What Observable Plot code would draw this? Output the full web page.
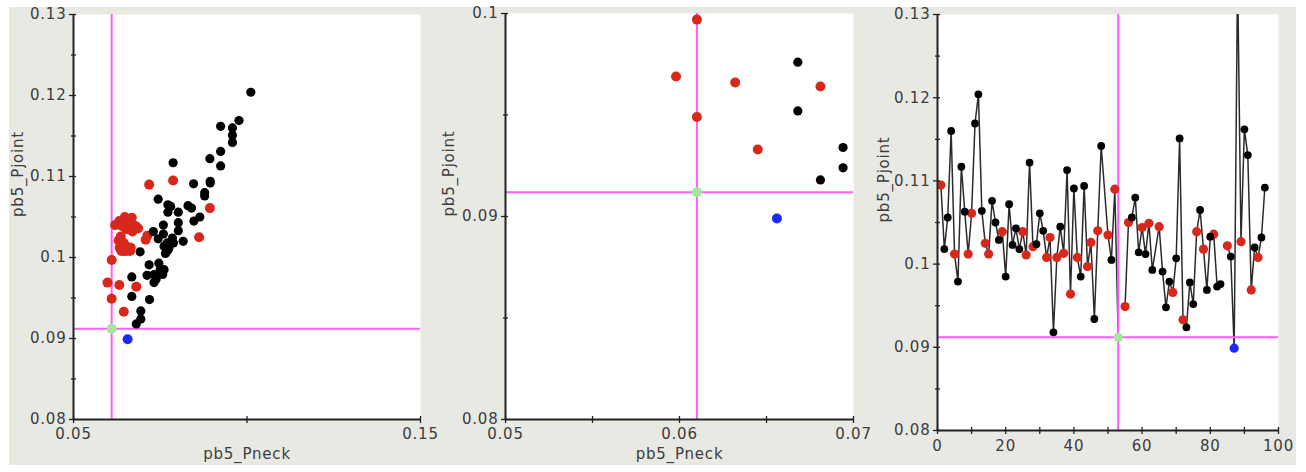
<!DOCTYPE html>
<html>
<head>
<meta charset="utf-8">
<script src="https://cdn.jsdelivr.net/npm/d3@7"></script>
<script src="https://cdn.jsdelivr.net/npm/@observablehq/plot@0.6"></script>
<style>
html,body{margin:0;padding:0;background:#fff;}
#wrap{position:relative;width:1306px;height:472px;overflow:hidden;background:#fff;}
#bg{position:absolute;left:9px;top:7px;width:1287px;height:458px;background:#e9e9e4;}
#wrap svg{position:absolute;left:0;top:0;}
</style>
</head>
<body>
<div id="wrap"><div id="bg"></div></div>
<script>
// ---- data ----
const index = [1,2,3,4,5,6,7,8,9,10,11,12,13,14,15,16,17,18,19,20,21,22,23,24,25,26,27,28,29,30,31,32,33,34,35,36,37,38,39,40,41,42,43,44,45,46,47,48,50,51,52,53,54,55,56,57,58,59,60,61,62,63,65,66,67,68,69,70,71,72,73,74,75,76,77,78,79,80,81,82,83,84,85,86,87,88,89,90,91,92,93,94,95,96];
const pjoint = [0.1095,0.1018,0.1056,0.1160,0.1012,0.0979,0.1117,0.1063,0.1012,0.1061,0.1169,0.1204,0.1064,0.1025,0.1012,0.1076,0.1050,0.1029,0.1039,0.0985,0.1072,0.1023,0.1043,0.1018,0.1039,0.1011,0.1122,0.1021,0.1024,0.1061,0.1040,0.1008,0.1032,0.0918,0.1008,0.1045,0.1013,0.1113,0.0964,0.1091,0.1008,0.0985,0.1094,0.0997,0.1026,0.0934,0.1040,0.1142,0.1035,0.1005,0.1090,0.0912,null,0.0949,0.1050,0.1056,0.1080,0.1014,0.1044,0.1012,0.1049,0.0993,0.1045,0.0991,0.0948,0.0979,0.0966,0.1007,0.1151,0.0933,0.0924,0.0978,0.0952,0.1039,0.1065,0.1018,0.0969,0.1033,0.1036,0.0973,0.0976,null,0.1022,0.1009,0.0899,0.1350,0.1027,0.1162,0.1131,0.0969,0.1020,0.1008,0.1032,0.1092];
const pneck = [0.0787,0.0788,0.0772,0.0958,0.0633,0.0732,0.0787,0.0780,0.0665,0.0893,0.0977,0.1011,0.0830,0.0862,0.0645,0.0878,0.0864,0.0759,0.0678,0.0761,0.0744,0.0744,0.0802,0.0770,0.0662,0.0660,0.0893,0.0630,0.0785,0.0840,0.0759,0.0638,0.0670,0.0681,0.0652,0.0847,0.0655,0.0924,0.0681,0.0846,0.0663,0.0750,0.0894,0.0610,0.0636,0.0694,0.0620,0.0958,0.0652,0.0765,0.0718,0.0610,null,0.0610,0.0648,0.0802,0.0878,0.0761,0.0655,0.0775,0.0668,0.0746,0.0632,0.0718,0.0719,0.0757,0.0632,0.0692,0.0958,0.0645,0.0694,0.0712,0.0668,0.0640,0.0772,0.0645,0.0732,0.0802,0.0686,0.0738,0.0668,null,0.0708,0.0772,0.0656,0.1050,0.0713,0.0924,0.0924,0.0598,0.0816,0.0645,0.0730,0.0894];
const group = ["r","k","k","k","r","k","k","k","r","r","k","k","k","r","r","k","k","k","r","k","k","k","k","k","r","r","k","r","k","k","k","r","r","k","r","k","r","k","r","k","r","k","k","r","r","k","r","k","r","k","r","g","k","r","r","k","k","k","r","k","r","k","r","k","k","k","r","k","k","r","k","k","k","r","k","r","k","k","r","k","k","k","r","k","b","k","r","k","k","r","k","r","k","k"];
const groupColor = {r: "#d8281b", k: "#000000", b: "#1a2cf2", g: "#a2e6a0"};
const selectedIndex = 53;

// axis ticks
const yTicksA = [0.08,0.09,0.10,0.11,0.12,0.13];
const yMinorA = [0.085,0.095,0.105,0.115,0.125];
const xTicks1 = [0.05,0.10,0.15];
const xLabels1 = [0.05,0.15];
const yTicks2 = [0.08,0.09,0.10];
const yMinor2 = [0.085,0.095];
const xTicks2 = [0.05,0.055,0.06,0.065,0.07];
const xLabels2 = [0.05,0.06,0.07];
const xTicks3 = [0,10,20,30,40,50,60,70,80,90,100];
const xLabels3 = [0,20,40,60,80,100];

const rows = index.map((d, i) => ({index: d, pjoint: pjoint[i], pneck: pneck[i], group: group[i]}));
const sel = rows.find(d => d.index === selectedIndex);
const base = rows.filter(d => d.group === "r" || d.group === "k");
const special = rows.filter(d => d.group === "b" || d.group === "g");

const AX = "#222";
const MAG = "#ff5cff";
const TXT = "#3c3c3c";
const fmt = d => String(+(+d).toFixed(4));

function makePanel(o) {
  const [l, r, t, b] = o.frame;
  const svg = Plot.plot({
    width: 1306, height: 472,
    marginLeft: l, marginRight: 1306 - r, marginTop: t, marginBottom: 472 - b,
    x: {domain: o.xDomain, axis: null},
    y: {domain: o.yDomain, axis: null},
    color: {type: "identity"},
    r: {type: "identity"},
    style: {background: "transparent", fontFamily: "DejaVu Sans, sans-serif", fontSize: "15px", letterSpacing: "0.8px", color: TXT, overflow: "visible"},
    marks: [
      Plot.frame({fill: "white", stroke: "none"}),
      ...o.marks,
      Plot.ruleX([o.xDomain[0]], {stroke: AX, strokeWidth: 2}),
      Plot.ruleY([o.yDomain[0]], {stroke: AX, strokeWidth: 2}),
      Plot.axisY({ticks: o.yMinor, tickSize: 5, dx: 3, stroke: AX, strokeWidth: 1.3, fill: "none", label: null}),
      Plot.axisY({ticks: o.yTicks, tickSize: 7, dx: 3, stroke: AX, strokeWidth: 1.3, fill: "none", label: null}),
      Plot.axisY({ticks: o.yTicks, tickSize: 0, tickPadding: 7, tickFormat: fmt, fill: TXT, label: null}),
      Plot.axisX({ticks: o.xTicks, tickSize: 7, dy: -3, stroke: AX, strokeWidth: 1.3, fill: "none", label: null}),
      Plot.axisX({ticks: o.xLabels, tickSize: 0, tickPadding: o.xPad, tickFormat: fmt, fill: TXT, label: null}),
      Plot.text([o.yTitle], {frameAnchor: "left", dx: -o.yTitleOffset, rotate: -90, text: d => d, fill: TXT}),
      o.xTitle ? Plot.text([o.xTitle], {frameAnchor: "bottom", dy: o.xTitleOffset, text: d => d, fill: TXT}) : null
    ]
  });
  document.getElementById("wrap").appendChild(svg);
}

const dotOpts = (x, rk, rr) => ({x, y: "pjoint", fill: d => groupColor[d.group], r: d => d.group === "k" ? rk : rr, clip: true});

// Panel 1: Pneck vs Pjoint (full range)
makePanel({
  frame: [73, 420, 14, 419],
  xDomain: [0.05, 0.15], yDomain: [0.08, 0.13],
  yTicks: yTicksA, yMinor: yMinorA, xTicks: xTicks1, xLabels: xLabels1, xPad: 9,
  yTitle: "pb5_Pjoint", yTitleOffset: 55, xTitle: "pb5_Pneck", xTitleOffset: 39,
  marks: [
    Plot.ruleX([sel.pneck], {stroke: MAG, strokeWidth: 2}),
    Plot.ruleY([sel.pjoint], {stroke: MAG, strokeWidth: 2}),
    Plot.dot(base, dotOpts("pneck", 4.6, 5)),
    Plot.dot(special, dotOpts("pneck", 5, 5))
  ]
});

// Panel 2: zoomed Pneck vs Pjoint
makePanel({
  frame: [505, 853, 13, 419],
  xDomain: [0.05, 0.07], yDomain: [0.08, 0.10],
  yTicks: yTicks2, yMinor: yMinor2, xTicks: xTicks2, xLabels: xLabels2, xPad: 9,
  yTitle: "pb5_Pjoint", yTitleOffset: 56, xTitle: "pb5_Pneck", xTitleOffset: 39,
  marks: [
    Plot.ruleX([sel.pneck], {stroke: MAG, strokeWidth: 2}),
    Plot.ruleY([sel.pjoint], {stroke: MAG, strokeWidth: 2}),
    Plot.dot(base, dotOpts("pneck", 4.6, 5)),
    Plot.dot(special, dotOpts("pneck", 5, 5))
  ]
});

// Panel 3: Pjoint by index
makePanel({
  frame: [937, 1278, 14, 430],
  xDomain: [0, 100], yDomain: [0.08, 0.13],
  yTicks: yTicksA, yMinor: yMinorA, xTicks: xTicks3, xLabels: xLabels3, xPad: 10,
  yTitle: "pb5_Pjoint", yTitleOffset: 53, xTitle: null,
  marks: [
    Plot.line(rows, {x: "index", y: "pjoint", stroke: "#2b2b2b", strokeWidth: 1.5, clip: true}),
    Plot.ruleX([sel.index], {stroke: MAG, strokeWidth: 2}),
    Plot.ruleY([sel.pjoint], {stroke: MAG, strokeWidth: 2}),
    Plot.dot(base, dotOpts("index", 3.9, 4.6)),
    Plot.dot(special, dotOpts("index", 4.6, 4.6))
  ]
});
</script>
</body>
</html>
